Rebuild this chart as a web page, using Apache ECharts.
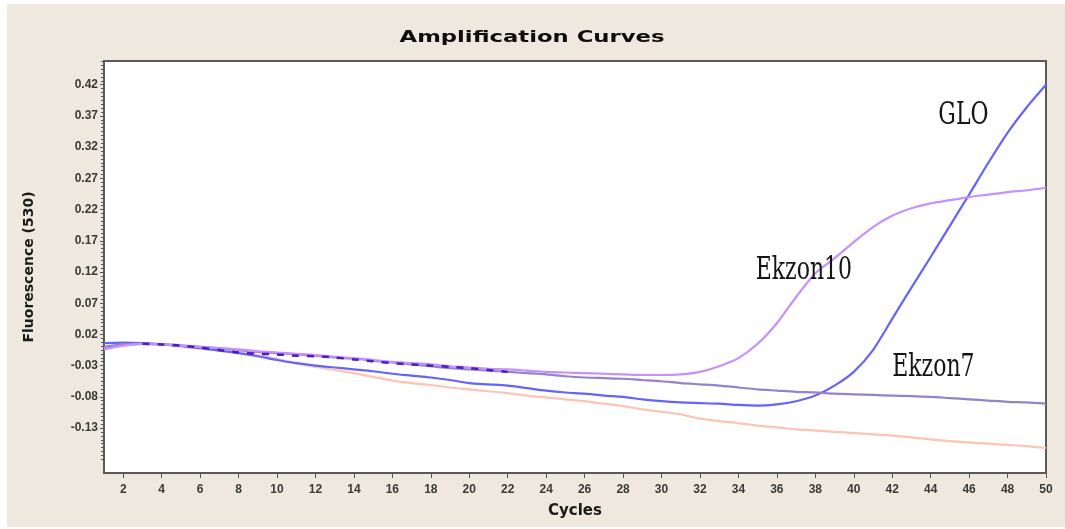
<!DOCTYPE html>
<html>
<head>
<meta charset="utf-8">
<title>Amplification Curves</title>
<script src="https://cdn.jsdelivr.net/npm/echarts@6/dist/echarts.min.js"></script>
<style>
  html, body { margin: 0; padding: 0; background: #ffffff; }
  #chart { width: 1065px; height: 529px; }
</style>
</head>
<body>
<div id="chart"></div>
<script>
// Cycle numbers 1..50
const cycles = [1,2,3,4,5,6,7,8,9,10,11,12,13,14,15,16,17,18,19,20,21,22,23,24,25,
  26,27,28,29,30,31,32,33,34,35,36,37,38,39,40,41,42,43,44,45,46,47,48,49,50];

// Fluorescence (530) readings per cycle
const gloValues = [0.006,0.007,0.006,0.004,0.001,-0.002,-0.006,-0.010,-0.015,-0.021,
  -0.026,-0.030,-0.033,-0.036,-0.039,-0.043,-0.046,-0.049,-0.053,-0.058,
  -0.060,-0.062,-0.066,-0.070,-0.073,-0.075,-0.078,-0.080,-0.084,-0.087,
  -0.089,-0.090,-0.091,-0.093,-0.094,-0.092,-0.087,-0.078,-0.062,-0.040,
  -0.005,0.045,0.095,0.144,0.194,0.244,0.295,0.343,0.384,0.420];

const ekzon10Values = [-0.004,0.002,0.005,0.004,0.002,0.000,-0.002,-0.004,-0.007,-0.009,
  -0.011,-0.013,-0.016,-0.018,-0.021,-0.024,-0.026,-0.028,-0.031,-0.033,
  -0.035,-0.036,-0.038,-0.040,-0.041,-0.042,-0.043,-0.044,-0.045,-0.045,
  -0.044,-0.040,-0.031,-0.018,0.005,0.038,0.080,0.118,0.142,0.168,
  0.192,0.210,0.222,0.230,0.235,0.240,0.244,0.248,0.251,0.255];

const ekzon7Values = [0.000,0.004,0.005,0.004,0.002,0.000,-0.002,-0.005,-0.008,-0.010,
  -0.012,-0.014,-0.017,-0.019,-0.022,-0.025,-0.028,-0.031,-0.034,-0.036,
  -0.038,-0.040,-0.042,-0.044,-0.047,-0.049,-0.050,-0.051,-0.053,-0.055,
  -0.058,-0.060,-0.062,-0.065,-0.068,-0.070,-0.072,-0.073,-0.075,-0.076,
  -0.077,-0.078,-0.079,-0.080,-0.082,-0.084,-0.086,-0.088,-0.089,-0.091];

const ntcValues = [-0.003,0.003,0.005,0.005,0.003,0.000,-0.003,-0.007,-0.013,-0.019,
  -0.026,-0.032,-0.037,-0.042,-0.048,-0.054,-0.058,-0.061,-0.065,-0.068,
  -0.071,-0.074,-0.078,-0.081,-0.084,-0.087,-0.091,-0.095,-0.100,-0.104,
  -0.108,-0.115,-0.119,-0.122,-0.126,-0.129,-0.132,-0.134,-0.136,-0.138,
  -0.140,-0.142,-0.145,-0.148,-0.151,-0.153,-0.155,-0.157,-0.159,-0.162];

// Short replicate trace, cycles 3..22
const repCycles = [3,4,5,6,7,8,9,10,11,12,13,14,15,16,17,18,19,20,21,22];
const repValues = [0.005,0.004,0.002,-0.001,-0.005,-0.009,-0.011,-0.012,-0.014,-0.015,
  -0.017,-0.020,-0.023,-0.026,-0.028,-0.030,-0.032,-0.034,-0.037,-0.040];

// Axis tick labels
const xTickLabels = [2,4,6,8,10,12,14,16,18,20,22,24,26,28,30,32,34,36,38,40,42,44,46,48,50];
const yTickLabels = [-0.13,-0.08,-0.03,0.02,0.07,0.12,0.17,0.22,0.27,0.32,0.37,0.42];

// Curve names and where they sit (cycle, fluorescence)
const curveNames = ['GLO', 'Ekzon10', 'Ekzon7'];
const nameAnchors = [[44.4, 0.370], [34.9, 0.122], [42.0, -0.034]];

const Y_MIN = -0.202, Y_MAX = 0.458;

// fine dotted ticks along the value axis
const minorTicks = [];
for (let v = -0.13 - 0.05; v <= Y_MAX + 1e-9; v += 0.00625) {
  if (v >= Y_MIN) minorTicks.push(+v.toFixed(5));
}

const pairs = (xs, ys) => xs.map((x, i) => [x, ys[i]]);

const chart = echarts.init(document.getElementById('chart'), null, { renderer: 'canvas' });

const lineSeries = (name, data, color, z, extra) => Object.assign({
  name: name,
  type: 'line',
  data: data,
  showSymbol: false,
  symbol: 'none',
  smooth: 0.25,
  z: z,
  lineStyle: { color: color, width: 2.2 },
  emphasis: { disabled: true }
}, extra || {});

chart.setOption({
  animation: false,
  backgroundColor: '#ffffff',
  graphic: [
    {
      type: 'rect', z: -10, silent: true,
      shape: { x: 7, y: 4, width: 1058, height: 523 },
      style: { fill: '#eee8df' }
    },
    {
      type: 'text', z: 10, x: 532, y: 38, scaleX: 1.42,
      style: {
        text: 'Amplification Curves', fill: '#0d0d0d',
        font: 'bold 16px "DejaVu Sans"', align: 'center', verticalAlign: 'middle'
      }
    }
  ],
  grid: {
    left: 104, right: 19, top: 61, bottom: 56,
    show: true, backgroundColor: '#ffffff',
    borderColor: '#5a5a5a', borderWidth: 2
  },
  xAxis: {
    type: 'value', min: 1, max: 50,
    name: 'Cycles', nameLocation: 'middle', nameGap: 31,
    nameTextStyle: { fontFamily: 'DejaVu Sans', fontWeight: 'bold', fontSize: 15, color: '#1a1a1a' },
    axisLine: { show: false, onZero: false },
    splitLine: { show: false },
    axisTick: { show: true, length: 5, customValues: xTickLabels, lineStyle: { color: '#555' } },
    axisLabel: {
      customValues: xTickLabels, margin: 11,
      fontFamily: 'Liberation Sans', fontWeight: 'bold', fontSize: 12, color: '#3a3a3a'
    }
  },
  yAxis: [
    {
      type: 'value', min: Y_MIN, max: Y_MAX,
      name: 'Fluorescence (530)', nameLocation: 'middle', nameGap: 68, nameRotate: 90,
      nameTextStyle: { fontFamily: 'DejaVu Sans', fontWeight: 'bold', fontSize: 14, color: '#1a1a1a' },
      axisLine: { show: false, onZero: false },
      splitLine: { show: false },
      axisTick: { show: true, length: 4, customValues: yTickLabels, lineStyle: { color: '#555' } },
      axisLabel: {
        customValues: yTickLabels, margin: 6,
        formatter: v => v.toFixed(2),
        fontFamily: 'Liberation Sans', fontWeight: 'bold', fontSize: 12, color: '#3a3a3a'
      }
    },
    {
      type: 'value', min: Y_MIN, max: Y_MAX, position: 'left',
      axisLine: { show: false, onZero: false },
      splitLine: { show: false },
      axisLabel: { show: false },
      axisTick: { show: true, length: 3, customValues: minorTicks, lineStyle: { color: '#555', width: 1 } }
    }
  ],
  series: [
    lineSeries('NTC', pairs(cycles, ntcValues), '#fdc4b2', 2),
    lineSeries('GLO', pairs(cycles, gloValues), '#6464fa', 3),
    lineSeries('Ekzon7', pairs(cycles, ekzon7Values), '#9383c8', 4),
    lineSeries('Ekzon10', pairs(cycles, ekzon10Values), '#c790fa', 5),
    lineSeries('Replicate', pairs(repCycles, repValues), '#4c1cc4', 6,
      { lineStyle: { color: '#4c1cc4', width: 2.5, type: [7, 8] } })
  ]
});

// curve names placed at their data-space anchors
const nameTexts = curveNames.map((label, i) => {
  const p = chart.convertToPixel({ xAxisIndex: 0, yAxisIndex: 0 }, nameAnchors[i]);
  return {
    id: 'curveName' + i,
    type: 'text', z: 20, x: p[0], y: p[1], scaleY: 1.4,
    style: {
      text: label, fill: '#151515',
      font: '22px "DejaVu Serif"', align: 'left', verticalAlign: 'middle'
    }
  };
});
chart.setOption({ graphic: nameTexts });
</script>
</body>
</html>
